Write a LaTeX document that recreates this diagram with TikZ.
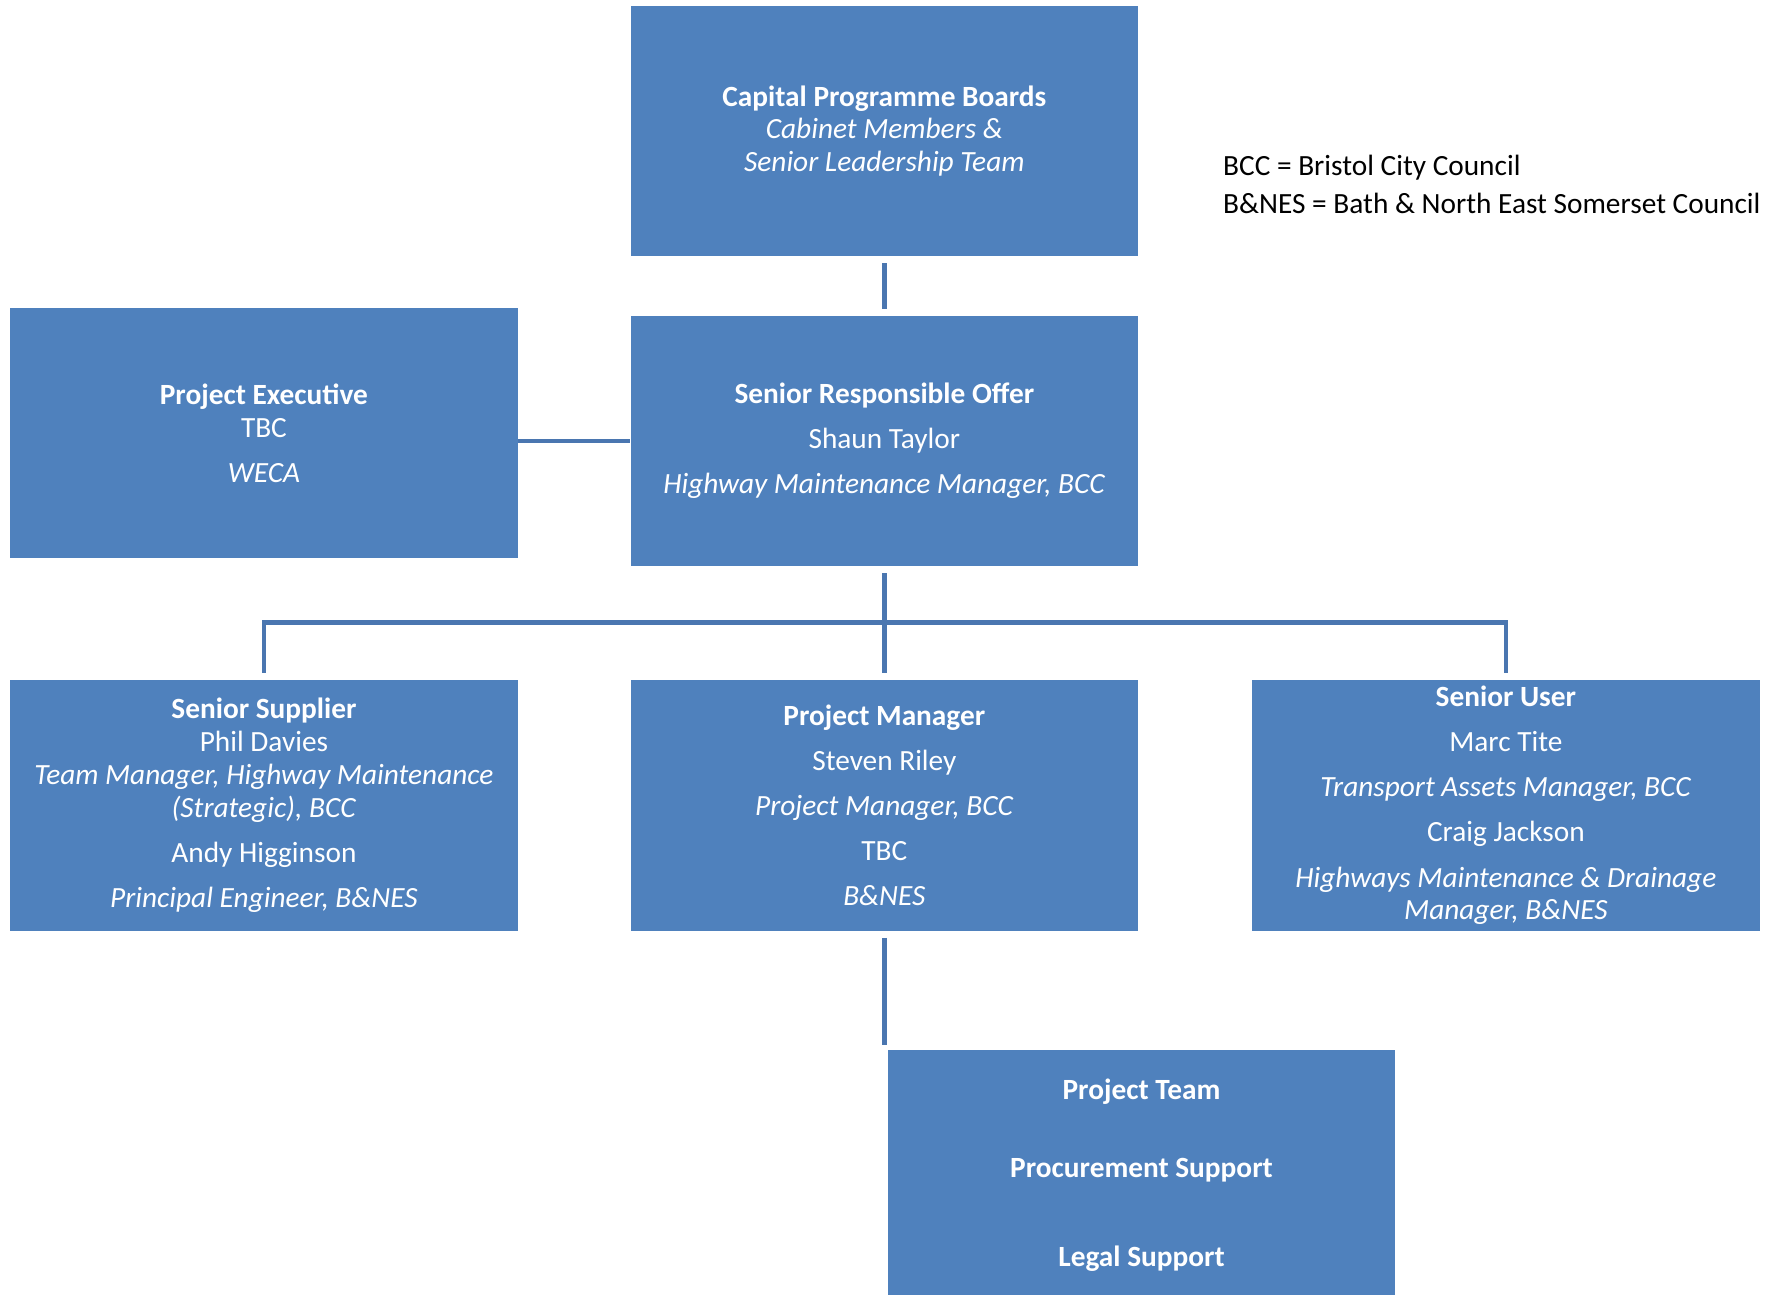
\documentclass[tikz,border=0pt]{standalone}
\usepackage{fontspec}
\setmainfont{Carlito}
\definecolor{boxblue}{HTML}{4F81BD}
\definecolor{lineblue}{HTML}{4A76B0}
\begin{document}
\begin{tikzpicture}[x=0.5pt,y=-0.5pt,
  orgbox/.style={rectangle, fill=boxblue, text=white, minimum width=225pt, minimum height=111pt, inner sep=0pt, align=center, font=\fontsize{13}{14.5}\selectfont},
  conn/.style={draw=lineblue, line width=2pt},
  legend/.style={anchor=west, inner sep=0pt, font=\fontsize{13}{14.5}\selectfont}]
\useasboundingbox (0,0) rectangle (1566.5,1148);
\node[orgbox] (cpb) at (784,116) {\textbf{Capital Programme Boards}\\\textit{Cabinet Members \&}\\\textit{Senior Leadership Team}};
\node[orgbox] (sro) at (784,391) {\textbf{Senior Responsible Offer}\\[5.5pt]Shaun Taylor\\[5.5pt]\textit{Highway Maintenance Manager, BCC}};
\node[orgbox] (pe) at (234,384) {\textbf{Project Executive}\\TBC\\[5.5pt]\textit{WECA}};
\node[orgbox] (ss) at (234,714) {\textbf{Senior Supplier}\\Phil Davies\\\textit{Team Manager, Highway Maintenance}\\\textit{(Strategic), BCC}\\[5.5pt]Andy Higginson\\[5.5pt]\textit{Principal Engineer, B\&NES}};
\node[orgbox] (pm) at (784,714) {\textbf{Project Manager}\\[5.5pt]Steven Riley\\[5.5pt]\textit{Project Manager, BCC}\\[5.5pt]TBC\\[5.5pt]\textit{B\&NES}};
\node[orgbox] (su) at (1335,714) {\textbf{Senior User}\\[5.5pt]Marc Tite\\[5.5pt]\textit{Transport Assets Manager, BCC}\\[5.5pt]Craig Jackson\\[5.5pt]\textit{Highways Maintenance \& Drainage}\\\textit{Manager, B\&NES}};
\node[orgbox] (pt) at (1012,1042) {\textbf{Project Team}\\[20pt]\textbf{Procurement Support}\\[25pt]\textbf{Legal Support}};
\node[legend] (leg1) at (1084,149) {BCC = Bristol City Council};
\node[legend] (leg2) at (1084,180) {B\&NES = Bath \& North East Somerset Council};
\coordinate (hub) at (784,552);
\coordinate (ptend) at (784,926);
\draw[conn, shorten <=3pt, shorten >=3pt] (cpb.south) -- (sro.north);
\draw[conn] (sro.west -| pe.east) -- (sro.west);
\draw[conn, shorten <=3pt, shorten >=3pt] (sro.south) -- (pm.north);
\draw[conn, shorten <=3pt, shorten >=3pt] (ss.north) -- (ss.north |- hub) -- (su.north |- hub) -- (su.north);
\draw[conn, shorten <=3pt] (pm.south) -- (ptend);
\end{tikzpicture}
\end{document}
